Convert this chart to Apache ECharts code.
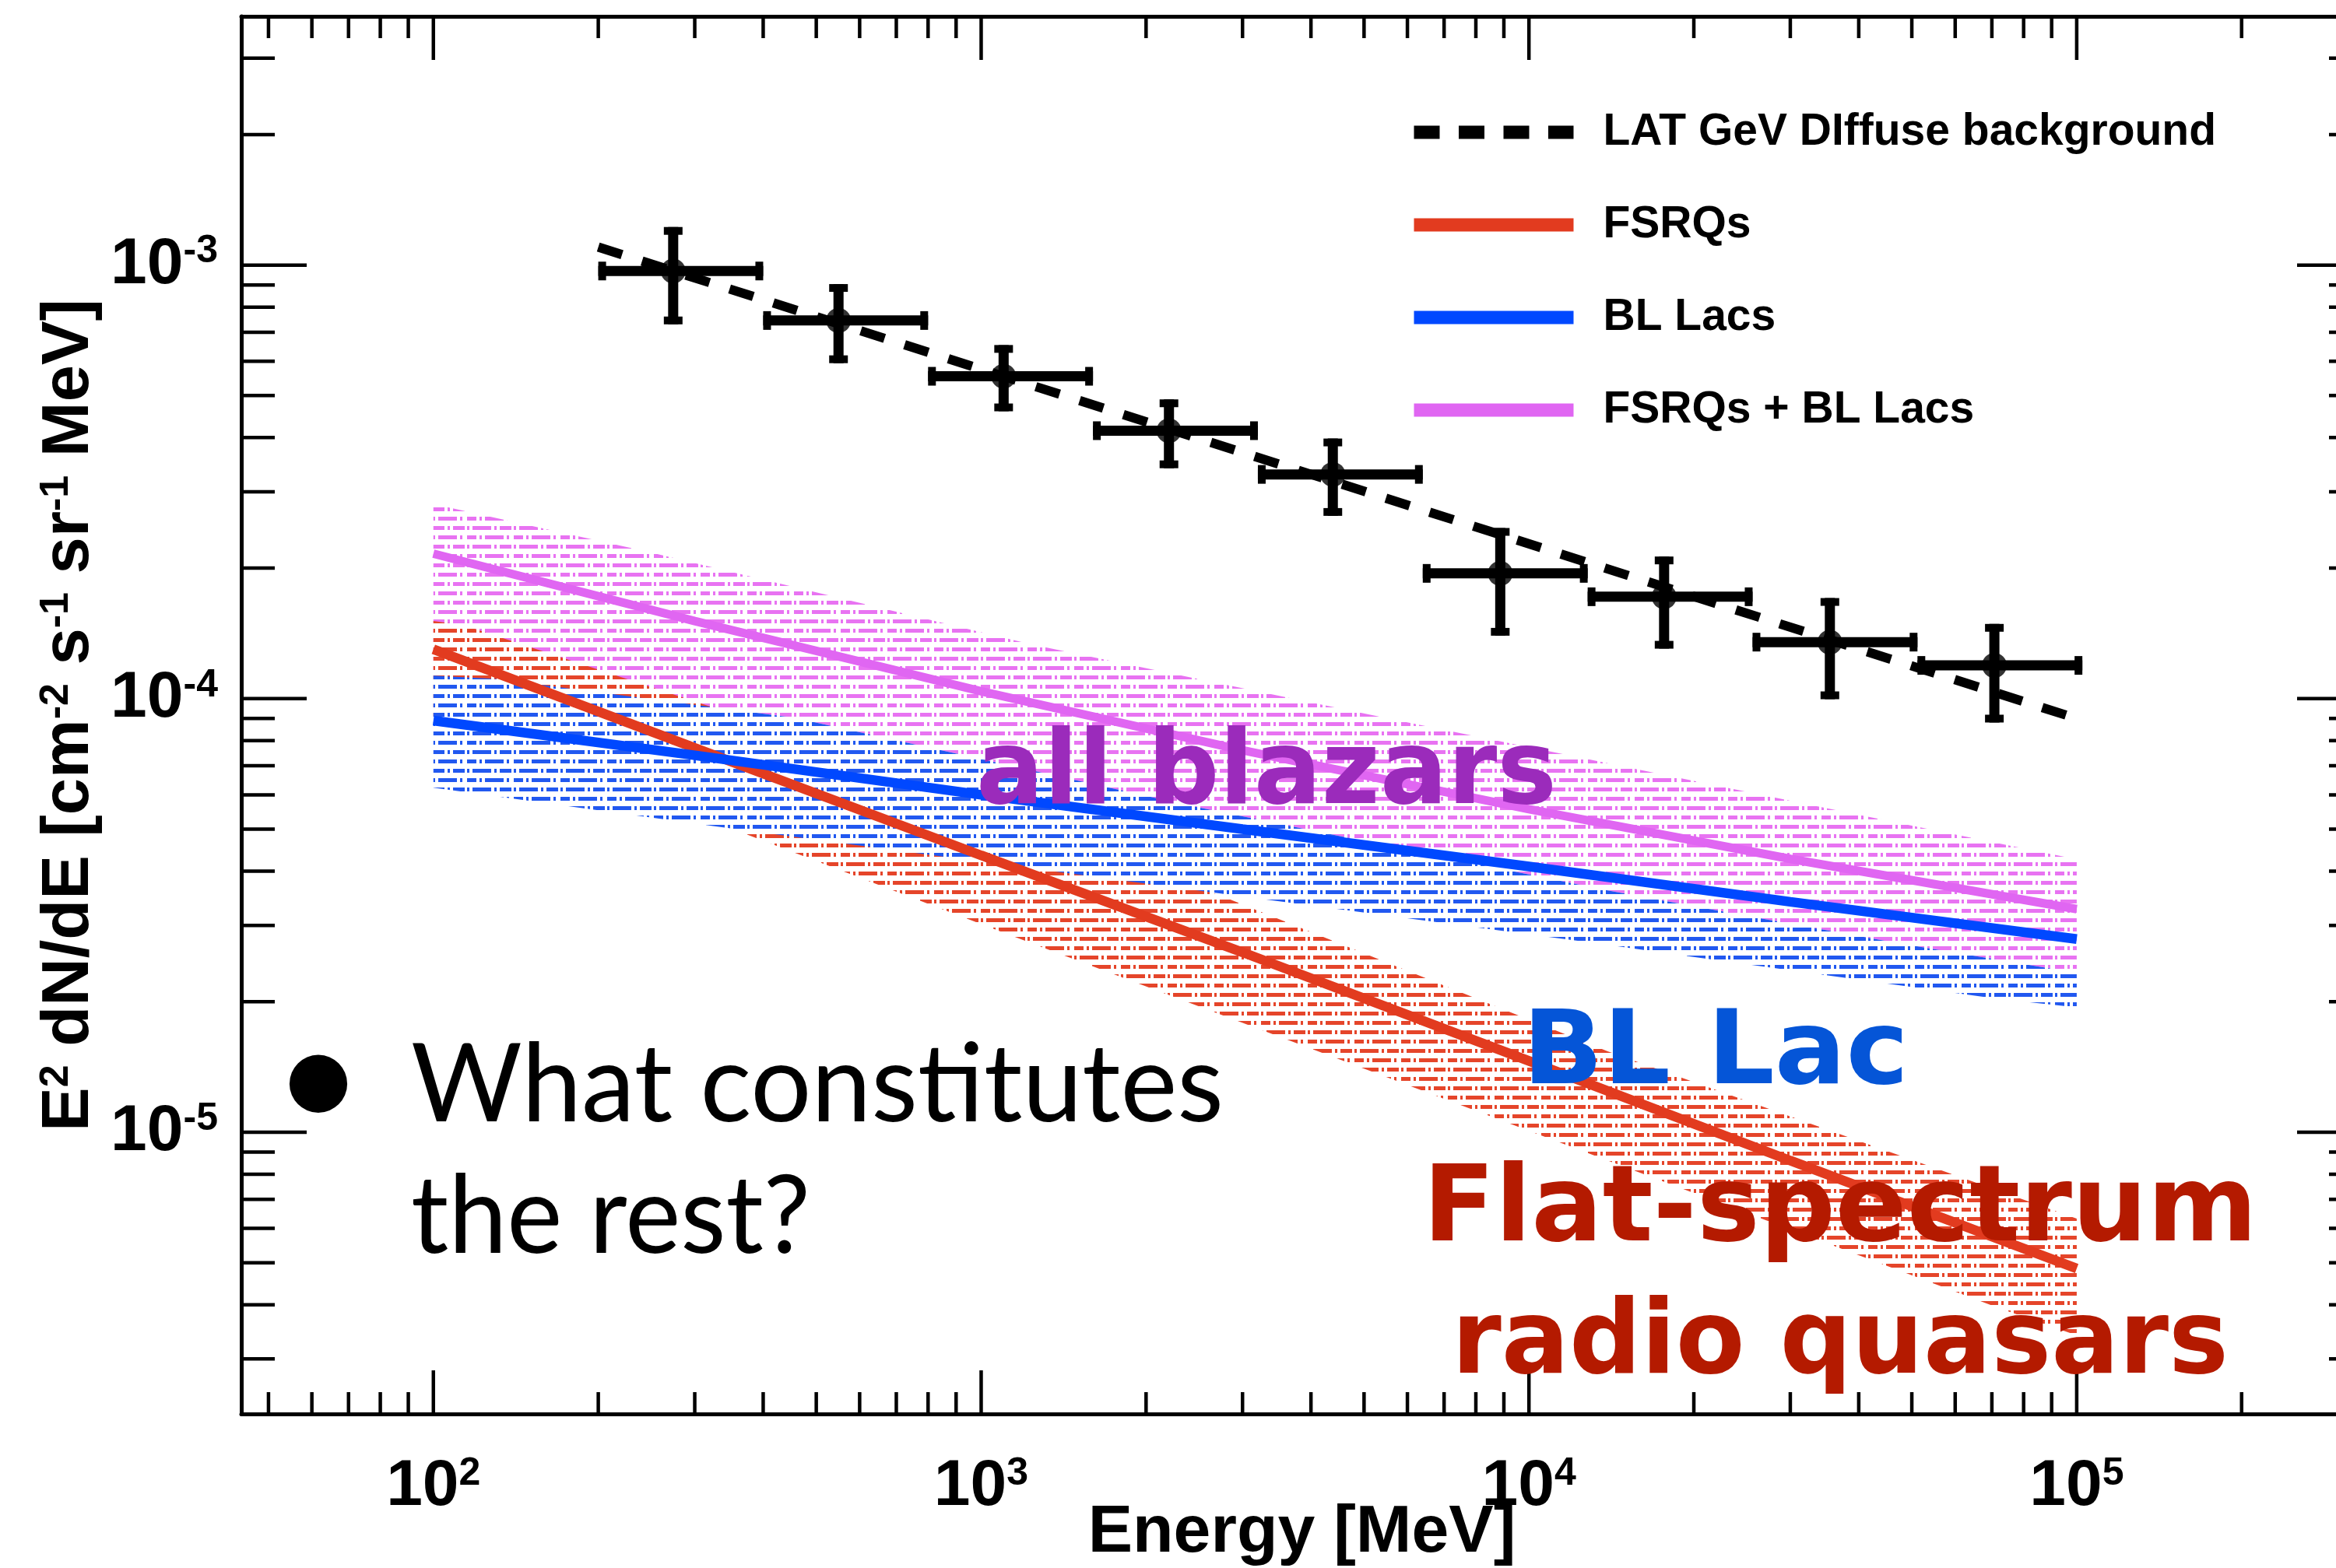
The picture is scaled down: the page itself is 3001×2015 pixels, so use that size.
<!DOCTYPE html>
<html><head><meta charset="utf-8">
<script src="https://cdn.jsdelivr.net/npm/echarts@6/dist/echarts.min.js"></script>
<style>html,body{margin:0;padding:0;background:#fff}#c{width:3001px;height:2015px}</style>
</head><body><div id="c"></div>
<script>
// ---------- data ----------
// LAT diffuse background points
const energyCenter = [274, 549, 1099, 2202, 4385, 8864, 17650, 35430, 70740];
const energyLow    = [200, 400, 800, 1600, 3200, 6400, 12800, 25600, 51200];
const energyHigh   = [400, 800, 1600, 3200, 6400, 12800, 25600, 51200, 102400];
const fluxValue    = [9.69e-4, 7.45e-4, 5.54e-4, 4.15e-4, 3.29e-4, 1.945e-4, 1.718e-4, 1.35e-4, 1.193e-4];
const fluxLow      = [7.30e-4, 5.94e-4, 4.60e-4, 3.40e-4, 2.64e-4, 1.397e-4, 1.304e-4, 9.97e-5, 8.81e-5];
const fluxHigh     = [1.224e-3, 9.04e-4, 6.54e-4, 4.90e-4, 3.98e-4, 2.475e-4, 2.127e-4, 1.706e-4, 1.487e-4];

// power-law fit of the diffuse background (dashed)
const diffuseFitE    = [200, 100000];
const diffuseFitFlux = [1.10e-3, 9.0e-5];

// model curves
const modelE    = [100, 300, 1000, 3000, 10000, 30000, 100000];
const fsrqFlux  = [1.30e-4, 7.7e-5, 4.35e-5, 2.6e-5, 1.46e-5, 8.6e-6, 4.85e-6];
const bllacFlux = [8.9e-5, 7.4e-5, 6.0e-5, 5.0e-5, 4.1e-5, 3.4e-5, 2.79e-5];
const allFlux   = [2.16e-4, 1.51e-4, 1.04e-4, 7.6e-5, 5.56e-5, 4.27e-5, 3.27e-5];

// uncertainty bands (edges)
const allHiE    = [100, 247, 537, 1238, 5467, 12900, 41080, 100000];
const allHiFlux = [2.81e-4, 2.18e-4, 1.72e-4, 1.333e-4, 9.03e-5, 7.24e-5, 5.36e-5, 4.26e-5];
const allLoE    = [100, 130, 455, 902, 2413, 7507, 13920, 24450, 47200, 100000];
const allLoFlux = [1.13e-4, 1.11e-4, 9.04e-5, 7.47e-5, 5.66e-5, 4.23e-5, 3.61e-5, 3.17e-5, 2.73e-5, 2.33e-5];
const fsrqHiE    = [100, 114, 326, 2850, 13920, 100000];
const fsrqHiFlux = [1.51e-4, 1.475e-4, 9.52e-5, 3.44e-5, 1.537e-5, 6.32e-6];
const fsrqLoE    = [100, 366, 1120, 72100, 100000];
const fsrqLoFlux = [9.1e-5, 4.91e-5, 2.86e-5, 3.93e-6, 3.4e-6];
const bllacHiE    = [100, 130, 455, 902, 2413, 7507, 13920, 24450, 47200, 100000];
const bllacHiFlux = [1.13e-4, 1.11e-4, 9.04e-5, 7.47e-5, 5.66e-5, 4.23e-5, 3.61e-5, 3.17e-5, 2.73e-5, 2.33e-5];
const bllacLoE    = [100, 326, 3312, 13470, 17740, 72100, 100000];
const bllacLoFlux = [6.23e-5, 5.08e-5, 3.44e-5, 2.72e-5, 2.59e-5, 2.03e-5, 1.94e-5];

// axis ranges and ticks
const xRange = [44.6, 297400];
const yRange = [2.24e-6, 3.747e-3];
const xMajorTicks = [100, 1000, 10000, 100000];
const xMinorTicks = [50, 60, 70, 80, 90, 200, 300, 400, 500, 600, 700, 800, 900,
  2000, 3000, 4000, 5000, 6000, 7000, 8000, 9000, 20000, 30000, 40000, 50000, 60000, 70000, 80000, 90000, 200000];
const yMajorTicks = [1e-5, 1e-4, 1e-3];
const yMinorTicks = [3e-6, 4e-6, 5e-6, 6e-6, 7e-6, 8e-6, 9e-6, 2e-5, 3e-5, 4e-5, 5e-5, 6e-5, 7e-5, 8e-5, 9e-5,
  2e-4, 3e-4, 4e-4, 5e-4, 6e-4, 7e-4, 8e-4, 9e-4, 2e-3, 3e-3];

// ---------- chart ----------
const chart = echarts.init(document.getElementById('c'), null, {renderer: 'canvas'});

function hatch(color) {
  const c = document.createElement('canvas');
  c.width = 60; c.height = 24;
  const g = c.getContext('2d');
  g.fillStyle = color;
  // row A
  g.fillRect(0, 4, 3, 5); g.fillRect(7, 4, 24, 5); g.fillRect(35, 4, 3, 5); g.fillRect(42, 4, 15, 5);
  // row B (shifted)
  g.fillRect(0, 16, 12, 5); g.fillRect(16, 16, 3, 5); g.fillRect(23, 16, 24, 5); g.fillRect(51, 16, 3, 5);
  return {image: c, repeat: 'repeat'};
}

function bandSeries(name, hiE, hiF, loE, loF, color, z) {
  const pattern = hatch(color);
  return {
    type: 'custom', name: name, silent: true, z: z, clip: true,
    data: hiE.map((e, i) => [e, hiF[i]]),
    renderItem: function (params, api) {
      if (params.dataIndex !== 0) return null;
      const pts = [];
      for (let i = 0; i < hiE.length; i++) pts.push(api.coord([hiE[i], hiF[i]]));
      for (let i = loE.length - 1; i >= 0; i--) pts.push(api.coord([loE[i], loF[i]]));
      return {type: 'polygon', shape: {points: pts}, style: {fill: pattern, stroke: null}};
    }
  };
}

// the right-hand frame of the original plot lies just outside the picture
const RIGHT_FRAME_OFFSET = 34;
function tickSeries(values, isX, len) {
  return {
    type: 'custom', silent: true, z: 20, clip: false,
    data: values.map(v => isX ? [v, 1e-4] : [1000, v]),
    renderItem: function (params, api) {
      const cs = params.coordSys;
      const p = api.coord([api.value(0), api.value(1)]);
      const st = {stroke: '#000', lineWidth: 4.5};
      if (isX) {
        const yb = cs.y + cs.height, yt = cs.y;
        return {type: 'group', children: [
          {type: 'line', shape: {x1: p[0], y1: yb, x2: p[0], y2: yb - len}, style: st},
          {type: 'line', shape: {x1: p[0], y1: yt, x2: p[0], y2: yt + len}, style: st}
        ]};
      } else {
        const xl = cs.x, xr = cs.x + cs.width + RIGHT_FRAME_OFFSET;
        return {type: 'group', children: [
          {type: 'line', shape: {x1: xl, y1: p[1], x2: xl + len, y2: p[1]}, style: st},
          {type: 'line', shape: {x1: xr, y1: p[1], x2: xr - len, y2: p[1]}, style: st}
        ]};
      }
    }
  };
}

const labelRich = {
  b: {fontFamily: 'Liberation Sans', fontWeight: 'bold', fontSize: 84, color: '#000'},
  s: {fontFamily: 'Liberation Sans', fontWeight: 'bold', fontSize: 50, color: '#000', verticalAlign: 'top'}
};
const powFmt = v => '{b|10}{s|' + Math.round(Math.log10(v)) + '}';

// annotation helper: stretch text horizontally to the width it has in the picture
const measureCtx = document.createElement('canvas').getContext('2d');
function annot(text, font, color, left, yMid, width) {
  measureCtx.font = font;
  const w = measureCtx.measureText(text).width;
  return {type: 'text', x: left, y: yMid, z: 100, scaleX: width / w, originX: 0, originY: 0,
    style: {text: text, font: font, fill: color, align: 'left', verticalAlign: 'middle',
            textAlign: 'left', textVerticalAlign: 'middle'}};
}

const axisLineStyle = {show: true, onZero: false, lineStyle: {color: '#000', width: 5}};

const option = {
  animation: false,
  backgroundColor: '#fff',
  grid: {left: 310, top: 21, width: 2691, height: 1796, show: false, containLabel: false, outerBoundsMode: 'none'},
  xAxis: [{
    type: 'log', min: xRange[0], max: xRange[1], position: 'bottom',
    axisLine: axisLineStyle, axisTick: {show: false}, splitLine: {show: false},
    axisLabel: {formatter: powFmt, rich: labelRich, margin: 52, showMinLabel: false, showMaxLabel: false},
    name: 'Energy [MeV]', nameLocation: 'middle', nameGap: 110, nameMoveOverlap: false,
    nameTextStyle: {fontFamily: 'Liberation Sans', fontWeight: 'bold', fontSize: 86, lineHeight: 86,
                    color: '#000', padding: [0, 0, 0, 34]}
  }, {
    type: 'log', min: xRange[0], max: xRange[1], position: 'top',
    axisLine: axisLineStyle, axisTick: {show: false}, splitLine: {show: false}, axisLabel: {show: false}
  }],
  yAxis: {
    type: 'log', min: yRange[0], max: yRange[1],
    axisLine: axisLineStyle, axisTick: {show: false}, splitLine: {show: false},
    axisLabel: {formatter: powFmt, rich: labelRich, margin: 30, showMinLabel: false, showMaxLabel: false},
    name: 'E{s|2} dN/dE [cm{s|-2} s{s|-1} sr{s|-1} MeV]', nameLocation: 'middle', nameGap: 178,
    nameMoveOverlap: false,
    nameTextStyle: {fontFamily: 'Liberation Sans', fontWeight: 'bold', fontSize: 85, color: '#000',
      rich: {s: {fontFamily: 'Liberation Sans', fontWeight: 'bold', fontSize: 52, color: '#000', verticalAlign: 'top'}}}
  },
  legend: {
    orient: 'vertical', left: 1803, top: 135, itemWidth: 205, itemHeight: 17, itemGap: 59,
    selectedMode: false,
    data: [
      {name: 'LAT GeV DIffuse background', itemStyle: {opacity: 0}, lineStyle: {type: [33, 24.5]}},
      {name: 'FSRQs', itemStyle: {opacity: 0}},
      {name: 'BL Lacs', itemStyle: {opacity: 0}},
      {name: 'FSRQs + BL Lacs', itemStyle: {opacity: 0}}
    ],
    textStyle: {fontFamily: 'Liberation Sans', fontWeight: 'bold', fontSize: 57, color: '#000',
                padding: [0, 0, 0, 33], lineHeight: 60},
    lineStyle: {width: 17}
  },
  series: [
    bandSeries('all band', allHiE, allHiFlux, allLoE, allLoFlux, '#e873f2', 2),
    bandSeries('fsrq band', fsrqHiE, fsrqHiFlux, fsrqLoE, fsrqLoFlux, '#e5452a', 3),
    bandSeries('bllac band', bllacHiE, bllacHiFlux, bllacLoE, bllacLoFlux, '#2158f0', 4),
    {type: 'line', name: 'FSRQs + BL Lacs', data: modelE.map((e, i) => [e, allFlux[i]]),
     symbol: 'none', z: 6, lineStyle: {color: '#e066f2', width: 11}, itemStyle: {color: '#e066f2'}},
    {type: 'line', name: 'FSRQs', data: modelE.map((e, i) => [e, fsrqFlux[i]]),
     symbol: 'none', z: 6, lineStyle: {color: '#e23b1f', width: 12.5}, itemStyle: {color: '#e23b1f'}},
    {type: 'line', name: 'BL Lacs', data: modelE.map((e, i) => [e, bllacFlux[i]]),
     symbol: 'none', z: 6, lineStyle: {color: '#0048ff', width: 12.5}, itemStyle: {color: '#0048ff'}},
    {type: 'line', name: 'LAT GeV DIffuse background', data: diffuseFitE.map((e, i) => [e, diffuseFitFlux[i]]),
     symbol: 'none', z: 7, lineStyle: {color: '#000', width: 12, type: [32, 27]}, itemStyle: {color: '#000'}},
    {type: 'custom', name: 'errors', z: 8, silent: true,
     data: energyCenter.map((e, i) => [e, fluxValue[i], energyLow[i], energyHigh[i], fluxLow[i], fluxHigh[i]]),
     renderItem: function (params, api) {
       const l = api.coord([api.value(2), api.value(1)]);
       const r = api.coord([api.value(3), api.value(1)]);
       const c = api.coord([api.value(0), api.value(1)]);
       const b = api.coord([api.value(0), api.value(4)]);
       const t = api.coord([api.value(0), api.value(5)]);
       const st = {stroke: '#000', lineWidth: 13};
       const cs = {stroke: '#000', lineWidth: 10};
       const h = 12;
       return {type: 'group', children: [
         {type: 'line', shape: {x1: l[0], y1: l[1], x2: r[0], y2: r[1]}, style: st},
         {type: 'line', shape: {x1: c[0], y1: b[1], x2: c[0], y2: t[1]}, style: st},
         {type: 'line', shape: {x1: l[0] + 5, y1: l[1] - h, x2: l[0] + 5, y2: l[1] + h}, style: cs},
         {type: 'line', shape: {x1: r[0] - 5, y1: r[1] - h, x2: r[0] - 5, y2: r[1] + h}, style: cs},
         {type: 'line', shape: {x1: c[0] - h, y1: b[1] - 5, x2: c[0] + h, y2: b[1] - 5}, style: cs},
         {type: 'line', shape: {x1: c[0] - h, y1: t[1] + 5, x2: c[0] + h, y2: t[1] + 5}, style: cs}
       ]};
     }},
    {type: 'scatter', name: 'points', z: 9, silent: true, symbol: 'circle', symbolSize: 32,
     itemStyle: {color: '#000'}, data: energyCenter.map((e, i) => [e, fluxValue[i]])},
    tickSeries(xMajorTicks, true, 56),
    tickSeries(xMinorTicks, true, 28),
    tickSeries(yMajorTicks, false, 84),
    tickSeries(yMinorTicks, false, 43)
  ],
  graphic: [
    annot('all blazars', 'bold 131px "DejaVu Sans"', '#9b2bbb', 1254, 998, 746),
    annot('BL Lac', 'bold 131px "DejaVu Sans"', '#0555d7', 1956, 1358, 496),
    annot('Flat-spectrum', 'bold 136px "DejaVu Sans"', '#b41a00', 1828, 1559, 1072),
    annot('radio quasars', 'bold 132px "DejaVu Sans"', '#b41a00', 1865, 1730, 998),
    {type: 'text', x: 409, y: 1387, z: 100, style: {text: '\u2022', font: '200px Lato', fill: '#000',
      align: 'center', verticalAlign: 'middle', textAlign: 'center', textVerticalAlign: 'middle'}},
    annot('What constitutes', '140px Lato', '#000', 528, 1396, 1044),
    annot('the rest?', '140px Lato', '#000', 528, 1565, 513)
  ]
};
chart.setOption(option);
</script></body></html>
